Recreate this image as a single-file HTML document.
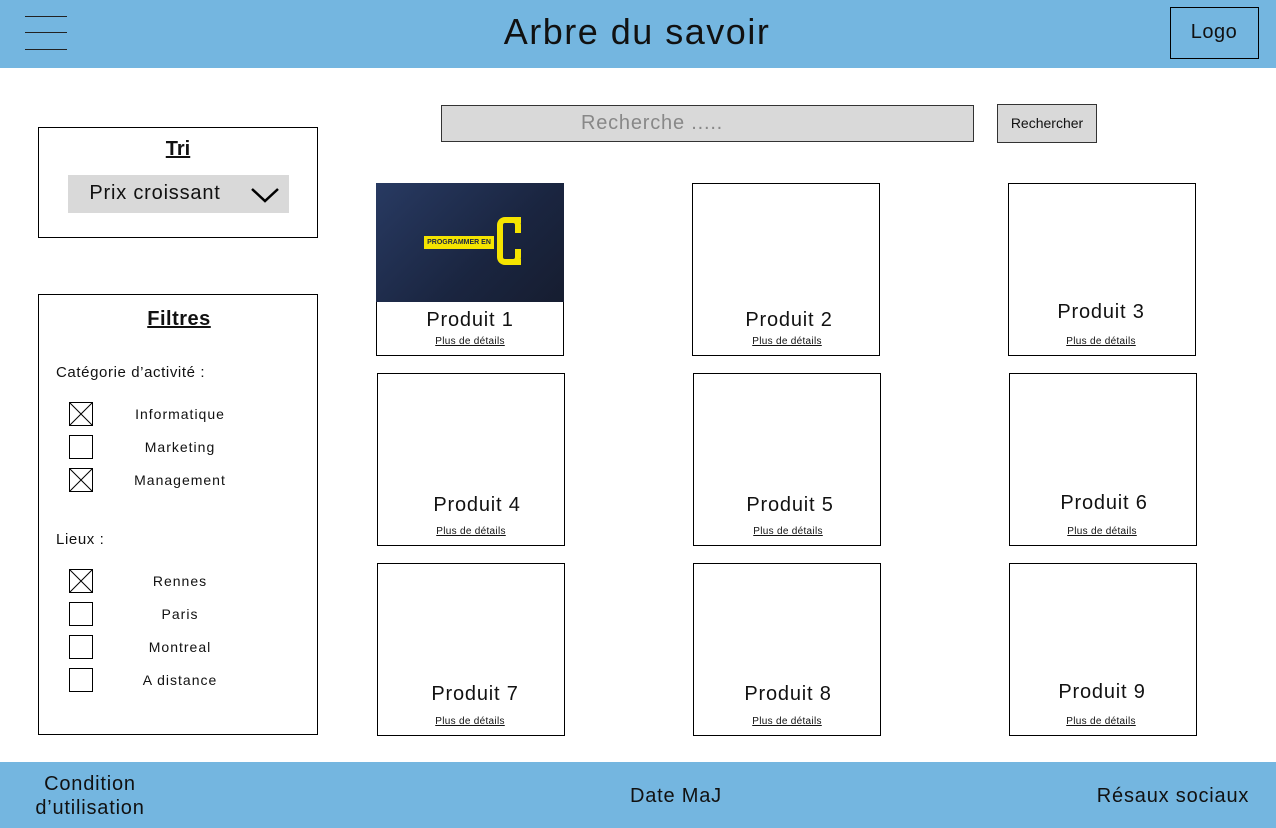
<!DOCTYPE html>
<html><head><meta charset="utf-8"><style>
*{margin:0;padding:0;box-sizing:border-box}
body{width:1276px;height:828px;position:relative;background:#fff;font-family:"Liberation Sans",sans-serif;color:#111;overflow:hidden}
.a{position:absolute}
.bar{background:#74b6e0}
.box{border:1px solid #000;background:#fff}
.t{position:absolute;white-space:nowrap;transform:translateX(-50%)}
.u{text-decoration:underline}
.p{font-size:20px;letter-spacing:0.8px}
.l{font-size:14px;letter-spacing:1px}
.d{font-size:10px;letter-spacing:0.3px}
</style></head><body>
<div class="a bar" style="left:0;top:0;width:1276px;height:68px"></div>
<div class="a" style="left:25px;top:16px;width:42px;height:1px;background:#222"></div>
<div class="a" style="left:25px;top:32px;width:42px;height:1px;background:#222"></div>
<div class="a" style="left:25px;top:49px;width:42px;height:1px;background:#222"></div>
<div class="t" style="left:637px;top:11px;font-size:36px;letter-spacing:1.5px">Arbre du savoir</div>
<div class="a" style="left:1170px;top:7px;width:89px;height:52px;border:1px solid #000"></div>
<div class="t" style="left:1214px;top:21px;font-size:20px;letter-spacing:0.5px">Logo</div>

<div class="a" style="left:441px;top:105px;width:533px;height:37px;background:#d9d9d9;border:1px solid #333"></div>
<div class="t" style="left:652px;top:112px;font-size:20px;color:#888;letter-spacing:0.8px">Recherche .....</div>
<div class="a" style="left:997px;top:104px;width:100px;height:39px;background:#d9d9d9;border:1px solid #333"></div>
<div class="t" style="left:1047px;top:115px;font-size:14px">Rechercher</div>

<div class="a box" style="left:38px;top:127px;width:280px;height:111px"></div>
<div class="t u" style="left:178px;top:138px;font-size:20px;font-weight:bold">Tri</div>
<div class="a" style="left:68px;top:175px;width:221px;height:38px;background:#d9d9d9"></div>
<div class="t" style="left:155px;top:182px;font-size:20px;letter-spacing:0.8px">Prix croissant</div>
<svg class="a" style="left:250px;top:186px" width="30" height="18"><polyline points="2,3 15,15 28,3" fill="none" stroke="#000" stroke-width="2.5"/></svg>

<div class="a box" style="left:38px;top:294px;width:280px;height:441px"></div>
<div class="t u" style="left:179px;top:308px;font-size:20px;font-weight:bold;letter-spacing:0.5px">Filtres</div>
<div class="a" style="left:56px;top:364px;font-size:15px;letter-spacing:0.6px">Catégorie d’activité :</div>
<div class="a" style="left:56px;top:531px;font-size:15px;letter-spacing:0.6px">Lieux :</div>

<svg class="a" style="left:0;top:0" width="320" height="700">
<g fill="#fff" stroke="#000" stroke-width="1">
<rect x="69.5" y="402.5" width="23" height="23"/><path d="M69.5 402.5L92.5 425.5M92.5 402.5L69.5 425.5"/>
<rect x="69.5" y="435.5" width="23" height="23"/>
<rect x="69.5" y="468.5" width="23" height="23"/><path d="M69.5 468.5L92.5 491.5M92.5 468.5L69.5 491.5"/>
<rect x="69.5" y="569.5" width="23" height="23"/><path d="M69.5 569.5L92.5 592.5M92.5 569.5L69.5 592.5"/>
<rect x="69.5" y="602.5" width="23" height="23"/>
<rect x="69.5" y="635.5" width="23" height="23"/>
<rect x="69.5" y="668.5" width="23" height="23"/>
</g></svg>
<div class="t l" style="left:180px;top:406px">Informatique</div>
<div class="t l" style="left:180px;top:439px">Marketing</div>
<div class="t l" style="left:180px;top:472px">Management</div>
<div class="t l" style="left:180px;top:573px">Rennes</div>
<div class="t l" style="left:180px;top:606px">Paris</div>
<div class="t l" style="left:180px;top:639px">Montreal</div>
<div class="t l" style="left:180px;top:672px">A distance</div>

<div class="a box" style="left:376px;top:183px;width:188px;height:173px"></div>
<div class="a" style="left:376px;top:183px;width:188px;height:119px;background:linear-gradient(135deg,#283a62,#1a2540 60%,#161d30)"></div>
<div class="a" style="left:424px;top:236px;width:70px;height:13px;background:#f5e400;font-size:7px;font-weight:bold;color:#1a2540;text-align:center;line-height:13px;white-space:nowrap;overflow:hidden">PROGRAMMER EN</div>
<div class="a" style="left:497px;top:217px;width:24px;height:48px;border:6px solid #f5e400;border-right:none;border-radius:8px 0 0 8px"></div>
<div class="a" style="left:512px;top:217px;width:9px;height:16px;border-top:6px solid #f5e400;border-right:6px solid #f5e400;border-radius:0 8px 0 0"></div>
<div class="a" style="left:512px;top:249px;width:9px;height:16px;border-bottom:6px solid #f5e400;border-right:6px solid #f5e400;border-radius:0 0 8px 0"></div>
<div class="t p" style="left:470px;top:309px">Produit 1</div>
<div class="t u d" style="left:470px;top:336px">Plus de détails</div>

<div class="a box" style="left:692px;top:183px;width:188px;height:173px"></div>
<div class="t p" style="left:789px;top:309px">Produit 2</div>
<div class="t u d" style="left:787px;top:336px">Plus de détails</div>
<div class="a box" style="left:1008px;top:183px;width:188px;height:173px"></div>
<div class="t p" style="left:1101px;top:301px">Produit 3</div>
<div class="t u d" style="left:1101px;top:336px">Plus de détails</div>

<div class="a box" style="left:377px;top:373px;width:188px;height:173px"></div>
<div class="t p" style="left:477px;top:494px">Produit 4</div>
<div class="t u d" style="left:471px;top:526px">Plus de détails</div>
<div class="a box" style="left:693px;top:373px;width:188px;height:173px"></div>
<div class="t p" style="left:790px;top:494px">Produit 5</div>
<div class="t u d" style="left:788px;top:526px">Plus de détails</div>
<div class="a box" style="left:1009px;top:373px;width:188px;height:173px"></div>
<div class="t p" style="left:1104px;top:492px">Produit 6</div>
<div class="t u d" style="left:1102px;top:526px">Plus de détails</div>

<div class="a box" style="left:377px;top:563px;width:188px;height:173px"></div>
<div class="t p" style="left:475px;top:683px">Produit 7</div>
<div class="t u d" style="left:470px;top:716px">Plus de détails</div>
<div class="a box" style="left:693px;top:563px;width:188px;height:173px"></div>
<div class="t p" style="left:788px;top:683px">Produit 8</div>
<div class="t u d" style="left:787px;top:716px">Plus de détails</div>
<div class="a box" style="left:1009px;top:563px;width:188px;height:173px"></div>
<div class="t p" style="left:1102px;top:681px">Produit 9</div>
<div class="t u d" style="left:1101px;top:716px">Plus de détails</div>

<div class="a bar" style="left:0;top:762px;width:1276px;height:66px"></div>
<div class="a" style="left:10px;top:772px;width:160px;text-align:center;font-size:20px;line-height:24px;letter-spacing:0.8px">Condition d’utilisation</div>
<div class="t" style="left:676px;top:785px;font-size:20px;letter-spacing:0.8px">Date MaJ</div>
<div class="t" style="left:1173px;top:785px;font-size:20px;letter-spacing:0.8px">Résaux sociaux</div>
</body></html>
